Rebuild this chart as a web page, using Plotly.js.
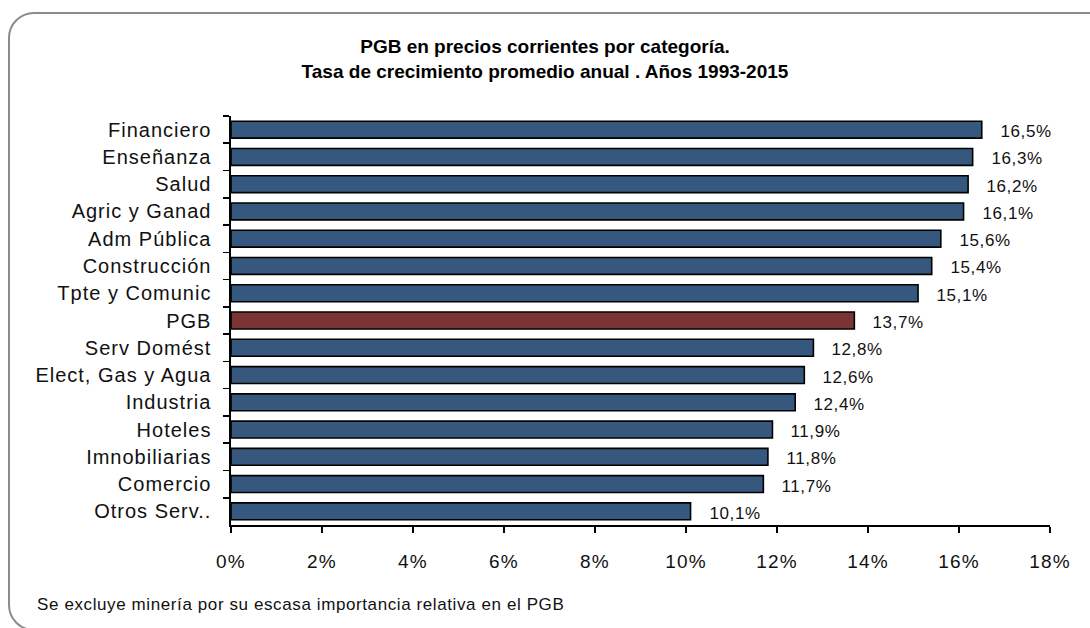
<!DOCTYPE html>
<html>
<head>
<meta charset="utf-8">
<script src="https://cdn.plot.ly/plotly-3.0.1.min.js"></script>
<style>
  html, body { margin: 0; padding: 0; background: #fff; }
  #wrap { position: relative; width: 1090px; height: 628px; overflow: hidden; }
  #frame {
    position: absolute; left: 8px; top: 12px; width: 1110px; height: 619px;
    border: 2px solid #8c8c8c; border-radius: 26px; box-sizing: border-box;
  }
  #chart { position: absolute; left: 0; top: 0; width: 1090px; height: 628px; }
  /* Excel renders the text a bit wider than Arial */
  #chart .ytick text { letter-spacing: 1px; }
  #chart .xtick text { letter-spacing: 1.2px; }
  #chart .annotation-text { letter-spacing: 0.6px; }
</style>
</head>
<body>
<div id="wrap">
  <div id="frame"></div>
  <div id="chart"></div>
</div>
<script>
  // Data (top to bottom as drawn)
  const categories = ['Financiero', 'Enseñanza', 'Salud', 'Agric y Ganad', 'Adm Pública',
    'Construcción', 'Tpte y Comunic', 'PGB', 'Serv Domést', 'Elect, Gas y Agua',
    'Industria', 'Hoteles', 'Imnobiliarias', 'Comercio', 'Otros Serv..'];
  const growth = [16.5, 16.3, 16.2, 16.1, 15.6, 15.4, 15.1, 13.7, 12.8, 12.6,
    12.4, 11.9, 11.8, 11.7, 10.1];
  const xTicks = [0, 2, 4, 6, 8, 10, 12, 14, 16, 18];

  const titleText = '<b>PGB en precios corrientes por categoría.</b><br><b>Tasa de crecimiento promedio anual . Años 1993-2015</b>';
  const noteText = 'Se excluye minería por su escasa importancia relativa en el PGB';

  const FONT = '"Liberation Sans", Arial, sans-serif';
  const BLUE = '#36587f';
  const RED = '#7b3434';

  const fmtPct = v => v.toFixed(1).replace('.', ',') + '%';

  const trace = {
    type: 'bar',
    orientation: 'h',
    x: growth,
    y: categories,
    marker: {
      color: categories.map(c => c === 'PGB' ? RED : BLUE),
      line: { color: '#000', width: 1.6 }
    },
    hoverinfo: 'skip'
  };

  const labels = categories.map((c, i) => ({
    x: growth[i],
    y: c,
    xref: 'x',
    yref: 'y',
    text: fmtPct(growth[i]),
    showarrow: false,
    xanchor: 'left',
    yanchor: 'middle',
    xshift: 18,
    yshift: -2,
    font: { family: FONT, size: 17, color: '#111' }
  }));

  labels.push({
    x: -0.216, y: -0.195, xref: 'paper', yref: 'paper',
    text: noteText, showarrow: false,
    xanchor: 'left', yanchor: 'middle',
    font: { family: FONT, size: 17, color: '#111' }
  });

  const layout = {
    width: 1090,
    height: 628,
    margin: { l: 231, r: 40, t: 116, b: 103 },
    paper_bgcolor: 'rgba(0,0,0,0)',
    plot_bgcolor: 'rgba(0,0,0,0)',
    font: { family: FONT, color: '#111' },
    title: {
      text: titleText,
      x: 0.5, xref: 'container', xanchor: 'center',
      y: 1 - 53 / 628, yref: 'container', yanchor: 'top',
      font: { family: FONT, size: 19, color: '#000' }
    },
    bargap: 0.38,
    showlegend: false,
    xaxis: {
      range: [0, 18],
      tickvals: xTicks,
      ticktext: xTicks.map(v => v + '%'),
      showgrid: false,
      zeroline: false,
      showline: true,
      linecolor: '#000',
      linewidth: 1.6,
      ticks: 'outside',
      ticklen: 6,
      tickwidth: 1.6,
      tickcolor: '#000',
      ticklabelstandoff: 13,
      tickfont: { family: FONT, size: 19, color: '#111' },
      fixedrange: true
    },
    yaxis: {
      type: 'category',
      autorange: 'reversed',
      showgrid: false,
      zeroline: false,
      showline: true,
      linecolor: '#000',
      linewidth: 1.6,
      ticks: 'outside',
      tickson: 'boundaries',
      ticklen: 6,
      tickwidth: 1.6,
      tickcolor: '#000',
      ticklabelstandoff: 14,
      tickfont: { family: FONT, size: 20, color: '#111' },
      fixedrange: true
    },
    annotations: labels
  };

  Plotly.newPlot('chart', [trace], layout, { displayModeBar: false, staticPlot: true });
</script>
</body>
</html>
